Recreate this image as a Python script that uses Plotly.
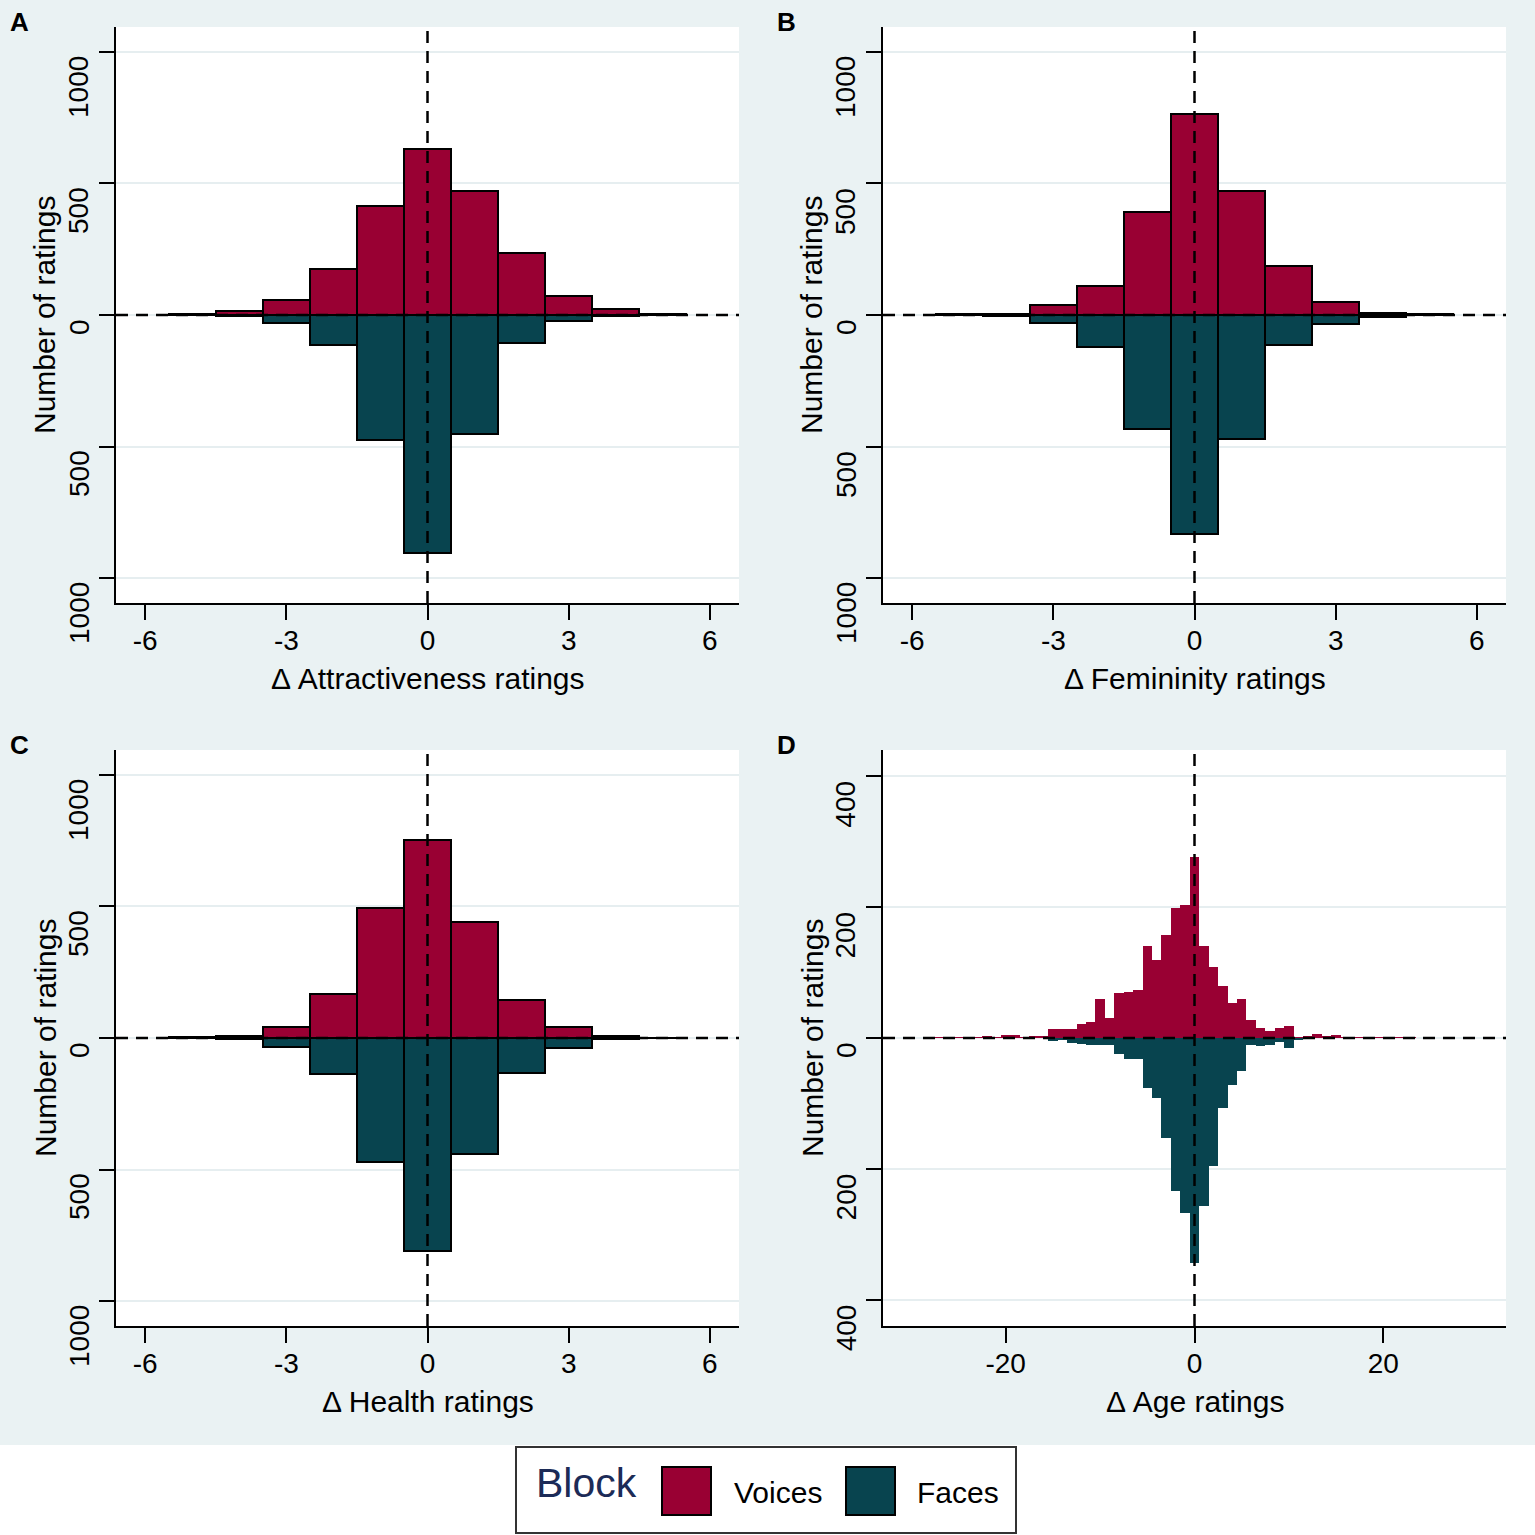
import plotly.graph_objects as go

# ---------------- data ----------------
bins_small = [-5, -4, -3, -2, -1, 0, 1, 2, 3, 4, 5]

attr_voices = [3, 16, 57, 176, 414, 632, 471, 234, 73, 22, 3]
attr_faces = [0, 2, 31, 115, 475, 904, 452, 107, 23, 2, 0]

fem_voices = [2, 4, 38, 111, 391, 766, 471, 188, 48, 8, 2]
fem_faces = [0, 4, 29, 123, 433, 831, 471, 115, 34, 8, 1]

health_voices = [2, 8, 42, 169, 494, 751, 441, 146, 42, 8, 1]
health_faces = [0, 4, 34, 138, 471, 808, 441, 134, 38, 4, 0]

age_bins_voices = list(range(-28, 24))
age_voices = [1, 1, 1, 1, 1, 1, 2, 1, 5, 4, 1, 3, 3, 14, 13, 13, 21, 24, 60, 31,
              68, 71, 74, 140, 119, 158, 199, 203, 277, 140, 108, 80, 54, 59, 27,
              16, 11, 16, 18, 1, 3, 6, 2, 5, 1, 1, 1, 1, 1, 1, 1, 1]
age_bins_faces = list(range(-15, 13))
age_faces = [4, 3, 7, 9, 11, 11, 11, 24, 32, 32, 77, 92, 153, 234, 267, 343, 257,
             196, 107, 72, 50, 11, 12, 11, 6, 16, 2, 1]

panel_letters = ["A", "B", "C", "D"]
x_titles = ["\u0394 Attractiveness ratings", "\u0394 Femininity ratings",
            "\u0394 Health ratings", "\u0394 Age ratings"]
y_title = "Number of ratings"

ticks_small = [-6, -3, 0, 3, 6]
ticks_small_text = ["-6", "-3", "0", "3", "6"]
ticks_age = [-20, 0, 20]
ticks_age_text = ["-20", "0", "20"]
yticks_small = [-1000, -500, 0, 500, 1000]
yticks_small_text = ["1000", "500", "0", "500", "1000"]
yticks_age = [-400, -200, 0, 200, 400]
yticks_age_text = ["400", "200", "0", "200", "400"]

legend_title = "Block"
legend_labels = ["Voices", "Faces"]

# ---------------- style ----------------
RED = "#990033"
TEAL = "#08444f"
BG = "#eaf2f3"
GRID = "#e6eef0"
FONT = "Liberation Sans, Arial, sans-serif"
W = H = 1535


def px_x(p):
    return p / W


def px_y(p):
    return 1 - p / H


fig = go.Figure()

panels = [
    dict(xb=bins_small, v=attr_voices, xf=bins_small, f=attr_faces, outline=True),
    dict(xb=bins_small, v=fem_voices, xf=bins_small, f=fem_faces, outline=True),
    dict(xb=bins_small, v=health_voices, xf=bins_small, f=health_faces, outline=True),
    dict(xb=age_bins_voices, v=age_voices, xf=age_bins_faces, f=age_faces, outline=False),
]

# plot areas in pixels (left, right, top, bottom)
areas = [(116, 739, 27, 603), (883, 1506, 27, 603),
         (116, 739, 750, 1326), (883, 1506, 750, 1326)]

for i, p in enumerate(panels):
    sfx = "" if i == 0 else str(i + 1)
    lw = 2 if p["outline"] else 0
    fig.add_trace(go.Bar(
        x=p["xb"], y=p["v"], width=1, marker=dict(color=RED, line=dict(color="black", width=lw)),
        xaxis="x" + sfx, yaxis="y" + sfx, showlegend=False, name=legend_labels[0]))
    fig.add_trace(go.Bar(
        x=p["xf"], y=[-val for val in p["f"]], width=1,
        marker=dict(color=TEAL, line=dict(color="black", width=lw)),
        xaxis="x" + sfx, yaxis="y" + sfx, showlegend=False, name=legend_labels[1]))

layout = dict(
    width=W, height=H, autosize=False,
    margin=dict(l=0, r=0, t=0, b=0, pad=0, autoexpand=False),
    paper_bgcolor=BG, plot_bgcolor="white",
    barmode="overlay", bargap=0,
    font=dict(family=FONT, color="black", size=28),
    showlegend=False,
)

shapes = []
annotations = []

for i in range(4):
    sfx = "" if i == 0 else str(i + 1)
    l, r, t, b = areas[i]
    is_age = i == 3
    xr = [-33, 33] if is_age else [-6.62, 6.62]
    yr = [-440, 440] if is_age else [-1095, 1095]
    yvals = yticks_age if is_age else yticks_small
    ytxt = yticks_age_text if is_age else yticks_small_text
    layout["xaxis" + sfx] = dict(
        domain=[px_x(l), px_x(r)], anchor="y" + sfx, range=xr,
        tickvals=ticks_age if is_age else ticks_small,
        ticktext=ticks_age_text if is_age else ticks_small_text,
        showline=True, linecolor="black", linewidth=2,
        ticks="outside", ticklen=15, tickwidth=2, tickcolor="black",
        ticklabelstandoff=-4, automargin=False,
        showgrid=False, zeroline=False, tickfont=dict(size=28, family=FONT),
    )
    layout["yaxis" + sfx] = dict(
        domain=[px_y(b), px_y(t)], anchor="x" + sfx, range=yr,
        tickvals=yvals, showticklabels=False, automargin=False,
        showline=True, linecolor="black", linewidth=2,
        ticks="outside", ticklen=15, tickwidth=2, tickcolor="black",
        showgrid=True, gridcolor=GRID, gridwidth=2, zeroline=False,
    )
    # rotated y tick labels hanging below each tick (Stata style)
    for val, txt in zip(yvals, ytxt):
        annotations.append(dict(text=txt, xref="paper", yref="y" + sfx,
                                x=px_x(l - 37), y=val, yshift=-2, showarrow=False,
                                textangle=-90, xanchor="center", yanchor="top",
                                font=dict(size=28, family=FONT, color="black")))
    # reference dashed lines
    shapes.append(dict(type="line", xref="x" + sfx, yref="y" + sfx + " domain",
                       x0=0, x1=0, y0=0, y1=1, layer="above",
                       line=dict(color="black", width=2.5, dash="12px,8px")))
    shapes.append(dict(type="line", xref="x" + sfx + " domain", yref="y" + sfx,
                       x0=0, x1=1, y0=0, y1=0, layer="above",
                       line=dict(color="black", width=2.5, dash="12px,8px")))
    cx = (l + r) / 2
    cy = (t + b) / 2
    annotations.append(dict(text=x_titles[i], xref="paper", yref="paper",
                            x=px_x(cx), y=px_y(b + 75), showarrow=False,
                            font=dict(size=30, family=FONT, color="black"),
                            xanchor="center", yanchor="middle"))
    annotations.append(dict(text=y_title, xref="paper", yref="paper",
                            x=px_x(l - 71), y=px_y(cy), showarrow=False, textangle=-90,
                            font=dict(size=30, family=FONT, color="black"),
                            xanchor="center", yanchor="middle"))
    annotations.append(dict(text="<b>" + panel_letters[i] + "</b>", xref="paper", yref="paper",
                            x=px_x(l - 97), y=px_y(t - 5), showarrow=False,
                            font=dict(size=26, family=FONT, color="black"),
                            xanchor="center", yanchor="middle"))

# white band below the panels
shapes.append(dict(type="rect", xref="paper", yref="paper", x0=0, x1=1, y0=0, y1=px_y(1445),
                   fillcolor="white", line=dict(width=0), layer="below"))
# legend box
shapes.append(dict(type="rect", xref="paper", yref="paper",
                   x0=px_x(516), x1=px_x(1016), y0=px_y(1533), y1=px_y(1447),
                   fillcolor="white", line=dict(color="#333333", width=2)))
shapes.append(dict(type="rect", xref="paper", yref="paper",
                   x0=px_x(662), x1=px_x(711), y0=px_y(1515), y1=px_y(1467),
                   fillcolor=RED, line=dict(color="black", width=2)))
shapes.append(dict(type="rect", xref="paper", yref="paper",
                   x0=px_x(846), x1=px_x(895), y0=px_y(1515), y1=px_y(1467),
                   fillcolor=TEAL, line=dict(color="black", width=2)))
annotations.append(dict(text=legend_title, xref="paper", yref="paper",
                        x=px_x(586), y=px_y(1483), showarrow=False,
                        font=dict(size=41, family=FONT, color="#1c2b57"),
                        xanchor="center", yanchor="middle"))
annotations.append(dict(text=legend_labels[0], xref="paper", yref="paper",
                        x=px_x(778), y=px_y(1492), showarrow=False,
                        font=dict(size=30, family=FONT, color="black"),
                        xanchor="center", yanchor="middle"))
annotations.append(dict(text=legend_labels[1], xref="paper", yref="paper",
                        x=px_x(958), y=px_y(1492), showarrow=False,
                        font=dict(size=30, family=FONT, color="black"),
                        xanchor="center", yanchor="middle"))

layout["shapes"] = shapes
layout["annotations"] = annotations
fig.update_layout(**layout)

fig.write_html("out.html", config={"displayModeBar": False},
               post_script="document.body.style.margin='0';document.body.style.overflow='hidden';")
